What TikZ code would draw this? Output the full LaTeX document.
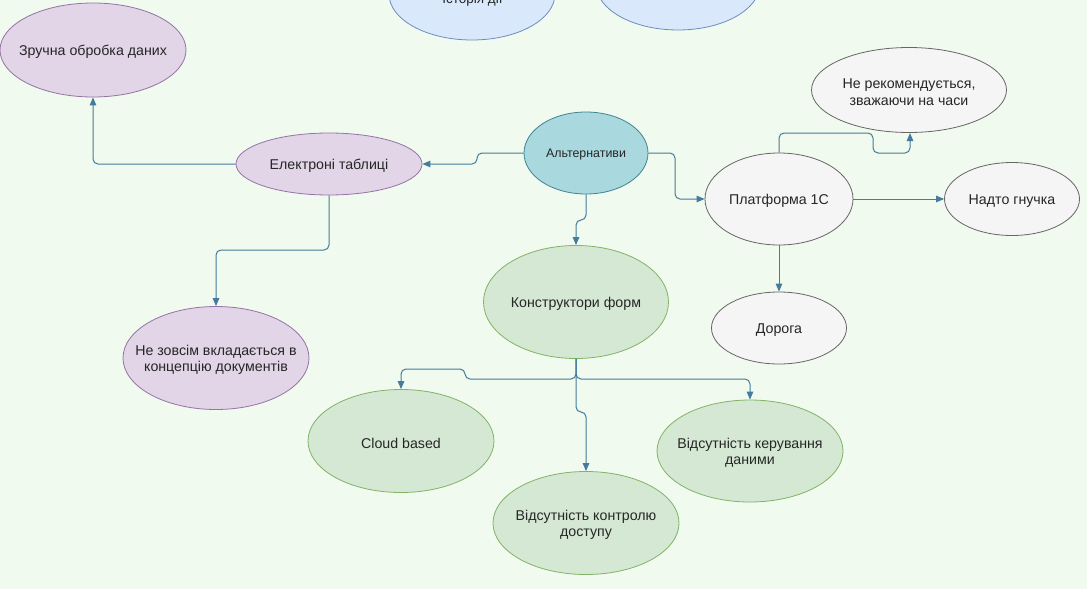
\documentclass[tikz,border=0pt]{standalone}
\usepackage{fontspec}
\setmainfont{Liberation Sans}
\usetikzlibrary{shapes.geometric,arrows.meta}
\definecolor{bg}{HTML}{F0FAEE}
\definecolor{purfill}{HTML}{E1D5E7}
\definecolor{purdraw}{HTML}{9673A6}
\definecolor{grnfill}{HTML}{D5E8D4}
\definecolor{grndraw}{HTML}{82B366}
\definecolor{grayfill}{HTML}{F5F5F5}
\definecolor{graydraw}{HTML}{666666}
\definecolor{tealfill}{HTML}{A9D8DE}
\definecolor{tealdraw}{HTML}{3F8591}
\definecolor{blufill}{HTML}{DAE8FC}
\definecolor{bludraw}{HTML}{6C8EBF}
\definecolor{link}{HTML}{457B9D}
\tikzset{
  el/.style={ellipse, draw, line width=0.8pt, inner sep=0pt},
  txt/.style={align=center, font=\fontsize{14.2}{16.5}\selectfont, text=black!85, inner sep=0pt, yshift=-2pt},
  pur/.style={el, fill=purfill, draw=purdraw},
  grn/.style={el, fill=grnfill, draw=grndraw},
  gry/.style={el, fill=grayfill, draw=graydraw},
  blu/.style={el, fill=blufill, draw=bludraw},
  tea/.style={el, fill=tealfill, draw=tealdraw},
  conn/.style={draw=link, line width=1pt, rounded corners=5pt, -{Triangle[length=8pt,width=6.5pt]}},
}
\begin{document}
\begin{tikzpicture}[x=1pt,y=-1pt]
\fill[bg] (0,0) rectangle (1087,589);
\useasboundingbox (0,0) rectangle (1087,589);
% top partial ellipses
\node[blu, minimum width=166pt, minimum height=92pt] (hist) at (472,-6) {};
\node[txt, font=\fontsize{13.5}{15}\selectfont] (histt) at (472.5,-2) {Історія дії};
\node[blu, minimum width=164pt, minimum height=92pt] (top2) at (678,-16) {};
% nodes
\node[pur, minimum width=186pt, minimum height=94pt] (zru) at (93,50) {};
\node[txt] at (zru) {Зручна обробка даних};
\node[pur, minimum width=186pt, minimum height=62pt] (ele) at (329,164) {};
\node[txt] at (ele) {Електроні таблиці};
\node[tea, minimum width=124pt, minimum height=82pt] (alt) at (586,153) {};
\node[txt, font=\fontsize{12.4}{14}\selectfont] at (alt) {Альтернативи};
\node[gry, minimum width=148pt, minimum height=92pt] (plat) at (779,199) {};
\node[txt] at (plat) {Платформа 1С};
\node[gry, minimum width=195pt, minimum height=85pt] (ner) at (909,90) {};
\node[txt] at (ner) {Не рекомендується,\\зважаючи на часи};
\node[gry, minimum width=135pt, minimum height=73pt] (nad) at (1012,199) {};
\node[txt] at (nad) {Надто гнучка};
\node[gry, minimum width=135pt, minimum height=72pt] (dor) at (779,328) {};
\node[txt] at (dor) {Дорога};
\node[grn, minimum width=185pt, minimum height=113pt] (kon) at (576,302) {};
\node[txt] at (kon) {Конструктори форм};
\node[pur, minimum width=186pt, minimum height=103pt] (nez) at (216,358) {};
\node[txt] at (nez) {Не зовсім вкладається в\\концепцію документів};
\node[grn, minimum width=186pt, minimum height=103pt] (clo) at (401,441) {};
\node[txt] at (clo) {Cloud based};
\node[grn, minimum width=186pt, minimum height=103pt] (vko) at (586,523) {};
\node[txt] at (vko) {Відсутність контролю\\доступу};
\node[grn, minimum width=186pt, minimum height=102pt] (vke) at (750,451) {};
\node[txt] at (vke) {Відсутність керування\\даними};
% connectors
\draw[conn] (alt.west) -- (477,153) -- (477,164) -- (ele.east);
\draw[conn] (ele.west) -- (93,164) -- (zru.south);
\draw[conn] (ele.south) -- (329,250) -- (216,250) -- (nez.north);
\draw[conn] (alt.east) -- (675,153) -- (675,199) -- (plat.west);
\draw[conn] (alt.south) -- (586,220) -- (576,220) -- (kon.north);
\draw[conn] (plat.north) -- (779,133) -- (873,133) -- (873,153) -- (910,153) -- (910,133);
\draw[conn] (plat.east) -- (nad.west);
\draw[conn] (plat.south) -- (dor.north);
\draw[conn] (kon.south) -- (576,379) -- (465,379) -- (465,369) -- (401,369) -- (clo.north);
\draw[conn] (kon.south) -- (576,379) -- (750,379) -- (vke.north);
\draw[conn] (kon.south) -- (576,412) -- (586,412) -- (vko.north);
\end{tikzpicture}
\end{document}
